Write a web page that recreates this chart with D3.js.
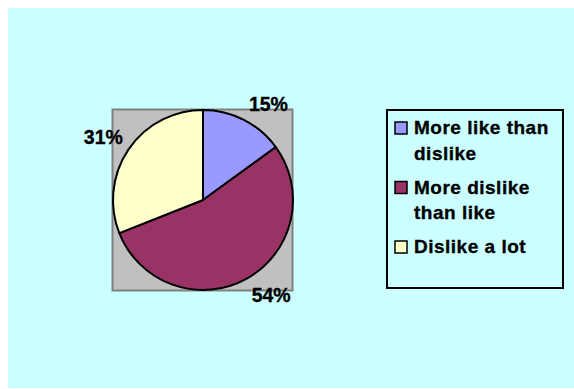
<!DOCTYPE html>
<html>
<head>
<meta charset="utf-8">
<script src="https://cdn.jsdelivr.net/npm/d3@7"></script>
<style>
  html, body { margin: 0; padding: 0; background: #ffffff; }
  svg { display: block; }
  text { font-family: "Liberation Sans", Arial, sans-serif; font-weight: bold; fill: #000; stroke: #000; stroke-width: 0.35px; }
</style>
</head>
<body>
<svg id="chart" width="574" height="389"></svg>
<script>
const categories = ["More like than dislike", "More dislike than like", "Dislike a lot"];
const legendLines = [["More like than", "dislike"], ["More dislike", "than like"], ["Dislike a lot"]];
const values = [15, 54, 31];
const colors = ["#9999FF", "#993366", "#FFFFCC"];

const svg = d3.select("#chart");

// chart area background
svg.append("rect").attr("x", 8).attr("y", 8).attr("width", 566).attr("height", 380)
  .attr("fill", "#CCFFFF");

// plot area
svg.append("rect").attr("x", 112.5).attr("y", 109.5).attr("width", 180).attr("height", 181)
  .attr("fill", "#C0C0C0").attr("stroke", "#808080").attr("stroke-width", 2);

const cx = 203, cy = 200, r = 90;
const pie = d3.pie().sort(null).value(d => d)(values);
const arc = d3.arc().innerRadius(0).outerRadius(r);

const g = svg.append("g").attr("transform", `translate(${cx},${cy})`);
g.selectAll("path").data(pie).join("path")
  .attr("d", arc)
  .attr("fill", (d, i) => colors[i])
  .attr("stroke", "#000").attr("stroke-width", 2).attr("stroke-linejoin", "round");

// labels
const total = d3.sum(values);
const lr = 100, hw = 20, hh = 7;
g.selectAll("text.lbl").data(pie).join("text")
  .attr("class", "lbl")
  .attr("font-size", "19.5px")
  .attr("text-anchor", "middle")
  .attr("x", d => { const a = (d.startAngle + d.endAngle) / 2; return Math.sin(a) * lr + Math.sign(Math.sin(a)) * hw + (Math.sin(a) < 0 ? 3 : 0); })
  .attr("y", d => { const a = (d.startAngle + d.endAngle) / 2; return -Math.cos(a) * lr - Math.sign(Math.cos(a)) * hh + hh; })
  .text(d => Math.round(d.data / total * 100) + "%");

// legend
svg.append("rect").attr("x", 387).attr("y", 110).attr("width", 176).attr("height", 178)
  .attr("fill", "none").attr("stroke", "#000").attr("stroke-width", 2);

const itemBase = [134, 193.5, 253];
const lineH = 25.5;
const lg = svg.append("g");
categories.forEach((c, i) => {
  lg.append("rect").attr("x", 395).attr("y", itemBase[i] - 12).attr("width", 12).attr("height", 12)
    .attr("fill", colors[i]).attr("stroke", "#000").attr("stroke-width", 1.5);
  legendLines[i].forEach((ln, j) => {
    lg.append("text").attr("x", 414).attr("y", itemBase[i] + j * lineH)
      .attr("font-size", "19px").attr("letter-spacing", "0.5px").text(ln);
  });
});
</script>
</body>
</html>
